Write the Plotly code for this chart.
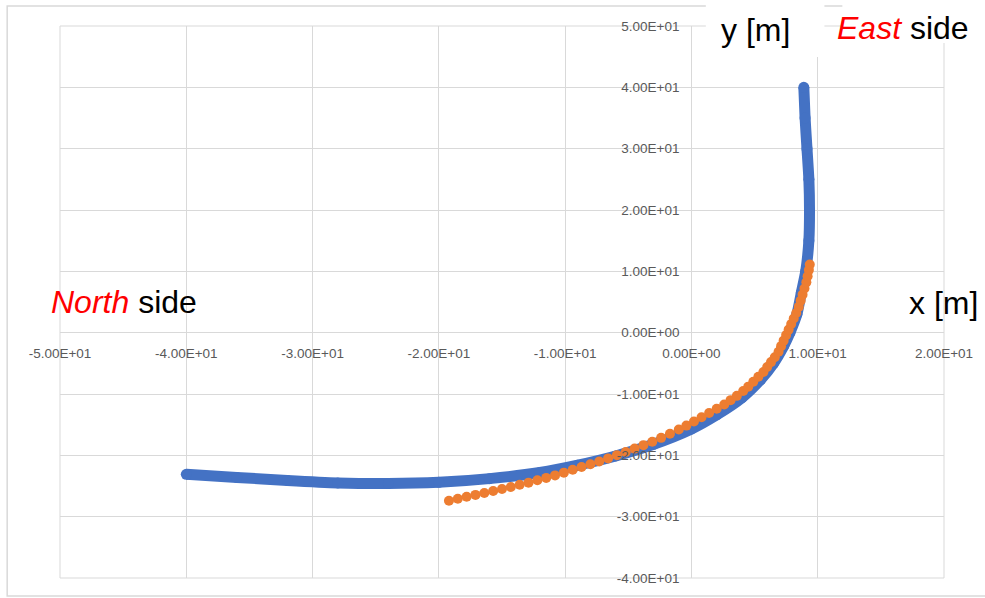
import plotly.graph_objects as go

# ---- data ----
blue_x = [-40.0, -36.0, -32.0, -28.0, -24.0, -20.0, -16.0, -12.0, -9.0, -6.0, -3.0, 0.0,
          2.0, 4.0, 5.5, 6.5, 7.3, 7.8, 8.35, 8.7, 9.05, 9.3, 9.35, 9.3, 9.15, 9.0, 8.9]
blue_y = [-23.1, -23.6, -24.1, -24.5, -24.6, -24.4, -23.8, -22.8, -21.6, -20.1, -18.2, -15.7,
          -13.4, -10.6, -7.6, -5.0, -2.2, 0.0, 3.0, 6.5, 10.0, 15.0, 20.0, 25.0, 30.0, 35.0, 40.0]

orange_x = [-19.2, -18.5, -17.8, -17.1, -16.4, -15.7, -15.0, -14.3, -13.6, -12.9, -12.2, -11.5,
            -10.8, -10.1, -9.4, -8.7, -8.0, -7.3, -6.6, -5.9, -5.2, -4.5, -3.8, -3.1, -2.4, -1.7,
            -1.0, -0.4, 0.2, 0.8, 1.4, 2.0, 2.6, 3.1, 3.6, 4.1, 4.5, 4.9, 5.3, 5.7, 6.0, 6.3,
            6.6, 6.9, 7.1, 7.3, 7.5, 7.7, 7.9, 8.1, 8.3, 8.5, 8.65, 8.8, 8.95, 9.1, 9.2, 9.3, 9.37]
orange_y = [-27.40, -27.08, -26.76, -26.45, -26.13, -25.82, -25.50, -25.15, -24.80, -24.45,
            -24.06, -23.68, -23.27, -22.82, -22.36, -21.90, -21.45, -21.00, -20.50, -19.97,
            -19.45, -18.90, -18.34, -17.78, -17.15, -16.48, -15.80, -15.15, -14.48, -13.8,
            -13.1, -12.4, -11.7, -11.0, -10.3, -9.5, -8.8, -8.0, -7.2, -6.4, -5.6, -4.8, -4.0,
            -3.1, -2.2, -1.3, -0.4, 0.5, 1.4, 2.3, 3.2, 4.2, 5.2, 6.2, 7.2, 8.2, 9.2, 10.2, 11.1]

x_ticks = [-50, -40, -30, -20, -10, 0, 10, 20]
x_tick_labels = ["-5.00E+01", "-4.00E+01", "-3.00E+01", "-2.00E+01", "-1.00E+01",
                 "0.00E+00", "1.00E+01", "2.00E+01"]
y_ticks = [-40, -30, -20, -10, 0, 10, 20, 30, 40, 50]
y_tick_labels = ["-4.00E+01", "-3.00E+01", "-2.00E+01", "-1.00E+01", "0.00E+00",
                 "1.00E+01", "2.00E+01", "3.00E+01", "4.00E+01", "5.00E+01"]

X_RANGE = [-50, 20]
Y_RANGE = [-40, 50]

# ---- layout geometry (pixels) ----
W, H = 985, 598
L, R, T, B = 60, 947, 26, 579


def px(xp):
    return (xp - L) / (R - L)


def py(yp):
    return (B - yp) / (B - T)


BLUE = "#4472C4"
ORANGE = "#ED7D31"
GRID = "#D9D9D9"
TICK = "#595959"

fig = go.Figure()
fig.add_trace(go.Scatter(
    x=blue_x, y=blue_y, mode="lines+markers",
    line=dict(color=BLUE, width=11, shape="spline", smoothing=0.6),
    marker=dict(color=BLUE, size=11),
    showlegend=False, hoverinfo="skip"))
fig.add_trace(go.Scatter(
    x=orange_x, y=orange_y, mode="markers",
    marker=dict(color=ORANGE, size=10),
    showlegend=False, hoverinfo="skip"))

x0_frac = (0 - X_RANGE[0]) / (X_RANGE[1] - X_RANGE[0])
y0_frac = (0 - Y_RANGE[0]) / (Y_RANGE[1] - Y_RANGE[0])

fig.update_layout(
    width=W, height=H, autosize=False,
    margin=dict(l=L, r=W - R, t=T, b=H - B, pad=0),
    paper_bgcolor="white", plot_bgcolor="white",
    font=dict(family="Liberation Sans, Arial, sans-serif"),
    xaxis=dict(range=X_RANGE, tickvals=x_ticks, ticktext=x_tick_labels,
               showgrid=True, gridcolor=GRID, gridwidth=1,
               zeroline=True, zerolinecolor=GRID, zerolinewidth=1,
               showline=False, ticks="", anchor="free", position=y0_frac,
               ticklabelstandoff=11,
               tickfont=dict(size=13.5, color=TICK, family="Liberation Sans, Arial")),
    yaxis=dict(range=Y_RANGE, tickvals=y_ticks, ticktext=y_tick_labels,
               showgrid=True, gridcolor=GRID, gridwidth=1,
               zeroline=True, zerolinecolor=GRID, zerolinewidth=1,
               showline=False, ticks="", anchor="free", position=x0_frac,
               ticklabelstandoff=12,
               tickfont=dict(size=13.5, color=TICK, family="Liberation Sans, Arial")),
)

shapes = [
    # outer chart frame
    dict(type="rect", xref="paper", yref="paper", x0=px(7), x1=px(995), y0=py(597), y1=py(6),
         line=dict(color=GRID, width=1.5), fillcolor="rgba(0,0,0,0)", layer="below"),
    # plot-area edge gridlines
    dict(type="rect", xref="paper", yref="paper", x0=0, x1=1, y0=0, y1=1,
         line=dict(color=GRID, width=1), fillcolor="rgba(0,0,0,0)", layer="below"),
    # white label boxes
    dict(type="rect", xref="paper", yref="paper", x0=px(708), x1=px(827), y0=py(57), y1=py(-5),
         line=dict(width=0), fillcolor="white", layer="above"),
    dict(type="rect", xref="paper", yref="paper", x0=px(845), x1=px(995), y0=py(43), y1=py(-5),
         line=dict(width=0), fillcolor="white", layer="above"),
]
fig.update_layout(shapes=shapes)

ann_font = dict(family="Liberation Sans, Arial, sans-serif", size=32, color="black")
annotations = [
    dict(text="y [m]", x=px(758), y=py(30), xref="paper", yref="paper",
         showarrow=False, font=ann_font, xanchor="center", yanchor="middle"),
    dict(text="<i><span style='color:#FF0000'>East</span></i> side", x=px(906), y=py(28),
         xref="paper", yref="paper", showarrow=False, font=ann_font,
         xanchor="center", yanchor="middle"),
    dict(text="<i><span style='color:#FF0000'>North</span></i> side", x=px(124), y=py(302),
         xref="paper", yref="paper", showarrow=False, font=ann_font,
         xanchor="center", yanchor="middle"),
    dict(text="x [m]", x=px(946), y=py(304), xref="paper", yref="paper",
         showarrow=False, font=ann_font, xanchor="center", yanchor="middle"),
]
fig.update_layout(annotations=annotations)

fig.write_html("out.html")
